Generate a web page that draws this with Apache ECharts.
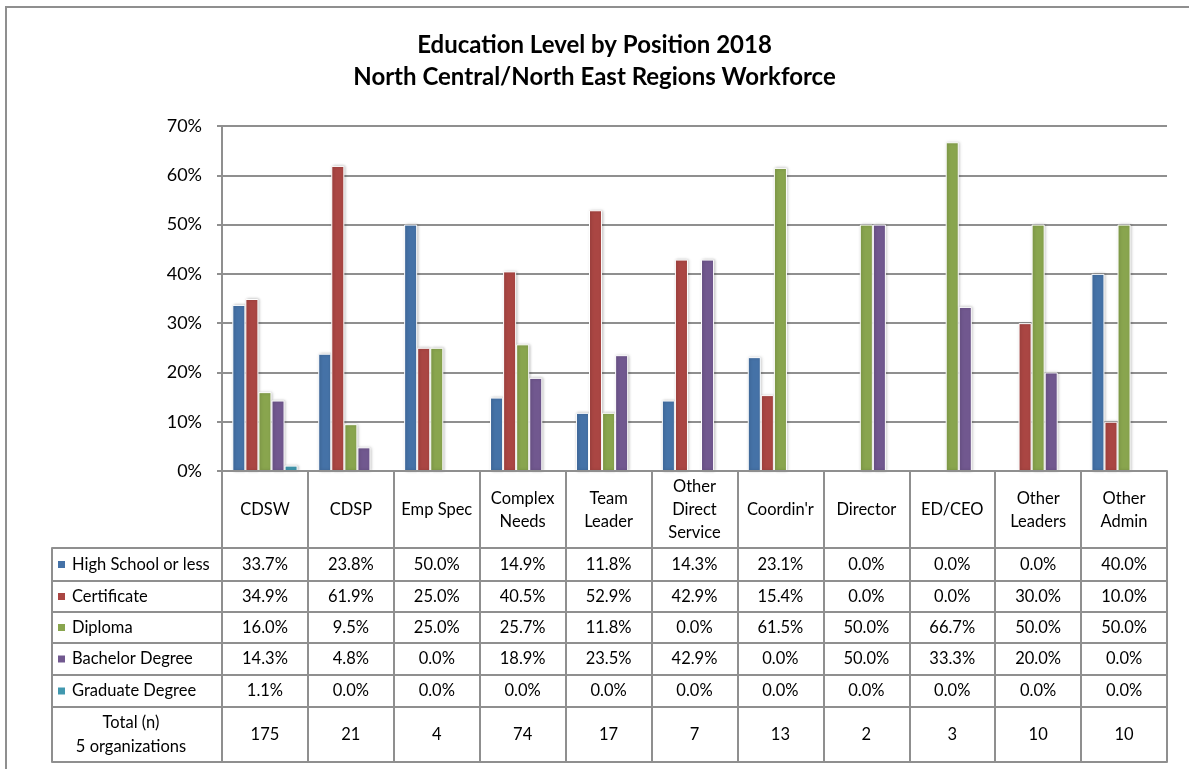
<!DOCTYPE html>
<html>
<head>
<meta charset="utf-8">
<script src="https://cdn.jsdelivr.net/npm/echarts@6/dist/echarts.min.js"></script>
<style>
html,body{margin:0;padding:0;background:#fff;}
#frame{position:absolute;left:5px;top:6px;width:1400px;height:1000px;border:2px solid #8f8f8f;box-sizing:border-box;}
#chart{position:absolute;left:0;top:0;width:1189px;height:769px;}
</style>
</head>
<body>
<div id="frame"></div>
<div id="chart"></div>
<script>
const categories = ['CDSW', 'CDSP', 'Emp Spec', 'Complex\nNeeds', 'Team\nLeader', 'Other\nDirect\nService', "Coordin'r", 'Director', 'ED/CEO', 'Other\nLeaders', 'Other\nAdmin'];
const seriesNames = ['High School or less', 'Certificate', 'Diploma', 'Bachelor Degree', 'Graduate Degree'];
const highSchool  = [33.7, 23.8, 50.0, 14.9, 11.8, 14.3, 23.1, 0.0, 0.0, 0.0, 40.0];
const certificate = [34.9, 61.9, 25.0, 40.5, 52.9, 42.9, 15.4, 0.0, 0.0, 30.0, 10.0];
const diploma     = [16.0, 9.5, 25.0, 25.7, 11.8, 0.0, 61.5, 50.0, 66.7, 50.0, 50.0];
const bachelor    = [14.3, 4.8, 0.0, 18.9, 23.5, 42.9, 0.0, 50.0, 33.3, 20.0, 0.0];
const graduate    = [1.1, 0.0, 0.0, 0.0, 0.0, 0.0, 0.0, 0.0, 0.0, 0.0, 0.0];
const totals      = [175, 21, 4, 74, 17, 7, 13, 2, 3, 10, 10];
const totalLabel  = ['Total (n)', '5 organizations'];
const yMin = 0, yMax = 70, yInterval = 10;

const colors = ['#4572A7', '#AA4643', '#89A54E', '#71588F', '#4198AF'];
const seriesValues = [highSchool, certificate, diploma, bachelor, graduate];

const FONT = 'Lato';
const LINE = '#8f8f8f';
const LW = 2;
const TFS = 16.5;

// table row layout: offsets of each row's top border below the x axis
const rowTops = [77, 110, 141, 172, 204, 236];
const rowBottom = 291;

const chart = echarts.init(document.getElementById('chart'));

const xAxes = [];
// main category axis (header row)
xAxes.push({
  type: 'category', gridIndex: 0, data: categories, position: 'bottom', z: 5,
  axisLine: {show: true, onZero: false, lineStyle: {color: LINE, width: LW}},
  axisTick: {show: true, interval: 0, length: rowBottom, lineStyle: {color: LINE, width: LW}},
  axisLabel: {interval: 0, margin: 39, verticalAlign: 'middle', fontFamily: FONT, fontSize: TFS, color: '#000', lineHeight: 23}
});
function rowAxis(offset, height, formatter) {
  return {
    type: 'category', gridIndex: 0, data: categories, position: 'bottom', offset: offset, z: 5,
    axisLine: {show: true, onZero: false, lineStyle: {color: LINE, width: LW}},
    axisTick: {show: false},
    axisLabel: {interval: 0, margin: height / 2, verticalAlign: 'middle', fontFamily: FONT, fontSize: TFS, color: '#000', formatter: formatter}
  };
}
seriesValues.forEach((vals, s) => {
  xAxes.push(rowAxis(rowTops[s], rowTops[s + 1] - rowTops[s], (v, i) => vals[i].toFixed(1) + '%'));
});
xAxes.push(rowAxis(rowTops[5], rowBottom - rowTops[5], (v, i) => String(totals[i])));
xAxes.push({
  type: 'category', gridIndex: 0, data: categories, position: 'bottom', offset: rowBottom, z: 5,
  axisLine: {show: true, onZero: false, lineStyle: {color: LINE, width: LW}}, axisTick: {show: false}, axisLabel: {show: false}
});
// label column (grid 1)
const labelCols = ['', ''];
function labelAxis(offset, height, text, withTicks) {
  return {
    type: 'category', gridIndex: 1, data: labelCols, boundaryGap: false, position: 'bottom', offset: offset, z: 5,
    axisLine: {show: true, onZero: false, lineStyle: {color: LINE, width: LW}},
    axisTick: {show: withTicks, interval: 0, length: rowBottom - rowTops[0], lineStyle: {color: LINE, width: LW}},
    axisLabel: {
      interval: 0, margin: height / 2, verticalAlign: 'middle', align: 'left', padding: [0, 0, 0, 6],
      fontFamily: FONT, fontSize: TFS, color: '#000',
      formatter: (v, i) => i === 0 ? text : '',
      rich: {
        k0: {width: 7, height: 7, backgroundColor: colors[0]},
        k1: {width: 7, height: 7, backgroundColor: colors[1]},
        k2: {width: 7, height: 7, backgroundColor: colors[2]},
        k3: {width: 7, height: 7, backgroundColor: colors[3]},
        k4: {width: 7, height: 7, backgroundColor: colors[4]},
        t: {fontFamily: FONT, fontSize: TFS, color: '#000', padding: [0, 0, 0, 7]},
        c: {fontFamily: FONT, fontSize: TFS, color: '#000', width: 116, align: 'center', lineHeight: 24, padding: [0, 0, 0, 15]}
      }
    }
  };
}
seriesNames.forEach((n, s) => {
  xAxes.push(labelAxis(rowTops[s], rowTops[s + 1] - rowTops[s], '{k' + s + '|}{t|' + n + '}', s === 0));
});
xAxes.push(labelAxis(rowTops[5], rowBottom - rowTops[5], totalLabel.map(t => '{c|' + t + '}').join('\n'), false));
xAxes.push({
  type: 'category', gridIndex: 1, data: labelCols, boundaryGap: false, position: 'bottom', offset: rowBottom, z: 5,
  axisLine: {show: true, onZero: false, lineStyle: {color: LINE, width: LW}}, axisTick: {show: false}, axisLabel: {show: false}
});

const option = {
  animation: false,
  title: {
    text: 'Education Level by Position 2018\nNorth Central/North East Regions Workforce',
    left: 'center', top: 24,
    textStyle: {fontFamily: FONT, fontSize: 24, fontWeight: 'bold', color: '#000', lineHeight: 32}
  },
  grid: [
    {left: 222, top: 126, width: 945, height: 345},
    {left: 52, top: 126, width: 170, height: 345}
  ],
  xAxis: xAxes,
  yAxis: [
    {
      type: 'value', gridIndex: 0, min: yMin, max: yMax, interval: yInterval,
      axisLine: {show: true, lineStyle: {color: LINE, width: LW}},
      axisTick: {show: true, length: 5, lineStyle: {color: LINE, width: LW}},
      splitLine: {show: true, lineStyle: {color: LINE, width: LW}},
      axisLabel: {formatter: '{value}%', margin: 20, fontFamily: FONT, fontSize: 18, color: '#000'}
    },
    {type: 'value', gridIndex: 1, show: false, min: yMin, max: yMax}
  ],
  series: seriesNames.map((n, s) => ({
    name: n, type: 'bar', xAxisIndex: 0, yAxisIndex: 0,
    data: seriesValues[s].map(v => v === 0 ? null : v),
    barGap: '0%', barCategoryGap: '24%',
    itemStyle: {color: colors[s], borderColor: '#fff', borderWidth: 1, shadowBlur: 3, shadowColor: 'rgba(0,0,0,0.25)', shadowOffsetX: 1, shadowOffsetY: 0}
  }))
};
chart.setOption(option);
</script>
</body>
</html>
